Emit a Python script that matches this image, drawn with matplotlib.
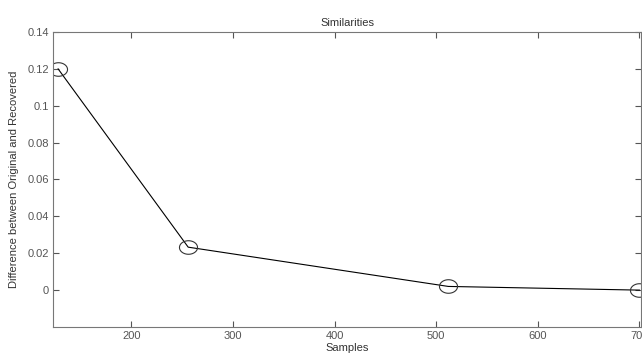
import matplotlib
matplotlib.use("Agg")
import matplotlib.pyplot as plt
import numpy as np
from matplotlib.path import Path

samples = [128, 256, 512, 700]
differences = [0.120, 0.0233, 0.002, 0.0]
x_ticks = [200, 300, 400, 500, 600, 700]
y_ticks = [0, 0.02, 0.04, 0.06, 0.08, 0.1, 0.12, 0.14]
y_tick_labels = ["0", "0.02", "0.04", "0.06", "0.08", "0.1", "0.12", "0.14"]

plt.rcParams['font.family'] = ['Liberation Sans', 'DejaVu Sans']

t = np.linspace(0, 2 * np.pi, 60)
ellipse = Path(np.column_stack([np.cos(t), 0.75 * np.sin(t)]), closed=True)

fig = plt.figure(figsize=(6.42, 3.54), dpi=100)
ax = fig.add_axes([0.0826, 0.0763, 0.9165, 0.8333])
ax.plot(samples, differences, color='black', linewidth=0.8, marker=ellipse,
        markersize=13, markerfacecolor='none', markeredgecolor='#333333',
        markeredgewidth=0.8)
ax.set_xlim(123, 702)
ax.set_ylim(-0.02, 0.14)
ax.set_xticks(x_ticks)
ax.set_yticks(y_ticks)
ax.set_yticklabels(y_tick_labels)
ax.tick_params(direction='in', length=4, width=0.8, labelsize=8,
               colors='#555555', top=True, right=True, pad=3)
for s in ax.spines.values():
    s.set_color('#777777')
    s.set_linewidth(0.8)
ax.set_title("Similarities", fontsize=8, color='#333333', pad=4)
ax.set_xlabel("Samples", fontsize=8, color='#333333', labelpad=1.5)
ax.set_ylabel("Difference between Original and Recovered", fontsize=8,
              color='#333333', labelpad=6)
fig.savefig("out.png", dpi=100)
